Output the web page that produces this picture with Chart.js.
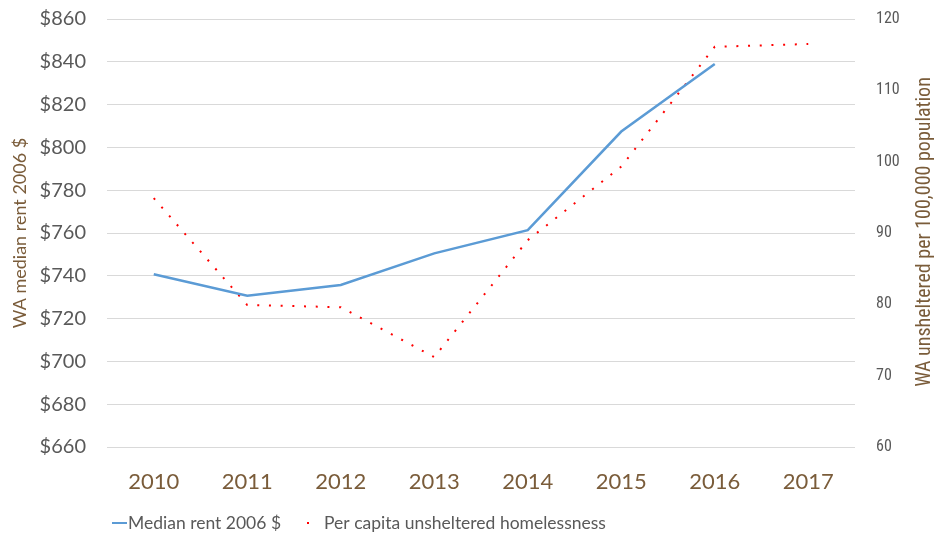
<!DOCTYPE html>
<html>
<head>
<meta charset="utf-8">
<script src="https://cdn.jsdelivr.net/npm/chart.js@4/dist/chart.umd.min.js"></script>
<style>
html,body{margin:0;padding:0;background:#fff;}
#wrap{width:945px;height:537px;position:relative;}
</style>
</head>
<body>
<div id="wrap"><canvas id="c" width="945" height="537"></canvas></div>
<script>
const years = ['2010','2011','2012','2013','2014','2015','2016','2017'];
const medianRent = [740.7, 730.7, 735.7, 750.5, 761.3, 807.4, 839.0, null];
const unsheltered = [94.9, 79.9, 79.6, 72.6, 89.0, 99.3, 116.1, 116.5];
const rentLabel = 'Median rent 2006 $';
const homelessLabel = 'Per capita unsheltered homelessness';
const leftTitle = 'WA median rent 2006 $';
const rightTitle = 'WA unsheltered per 100,000 population';

const GRAY = '#595959';
const BROWN = '#7A5C3A';
const BLUE = '#5B9BD5';
const RED = '#FF0000';
const NARROW = "'Liberation Sans Narrow', 'Roboto Condensed', 'Open Sans', sans-serif";

const extras = {
  id: 'extras',
  afterDraw(chart) {
    const ctx = chart.ctx;
    ctx.save();
    ctx.fillStyle = BROWN;
    ctx.font = "18px Lato";
    ctx.textAlign = 'center';
    ctx.textBaseline = 'middle';
    ctx.translate(20, 233);
    ctx.rotate(-Math.PI / 2);
    ctx.fillText(leftTitle, 0, 0);
    ctx.restore();
    ctx.save();
    ctx.fillStyle = BROWN;
    ctx.font = "20px " + NARROW;
    ctx.textAlign = 'center';
    ctx.textBaseline = 'middle';
    ctx.translate(925, 232);
    ctx.rotate(-Math.PI / 2);
    ctx.fillText(rightTitle, 0, 0);
    ctx.restore();
    ctx.save();
    const ly = 523;
    ctx.strokeStyle = BLUE;
    ctx.lineWidth = 2;
    ctx.beginPath();
    ctx.moveTo(112, ly);
    ctx.lineTo(127, ly);
    ctx.stroke();
    ctx.fillStyle = GRAY;
    ctx.font = "17.5px Lato";
    ctx.textAlign = 'left';
    ctx.textBaseline = 'middle';
    ctx.fillText(rentLabel, 128, ly);
    ctx.fillStyle = RED;
    ctx.fillRect(307, ly - 1, 2, 2);
    ctx.fillStyle = GRAY;
    ctx.fillText(homelessLabel, 324, ly);
    ctx.restore();
  }
};

new Chart(document.getElementById('c'), {
  type: 'line',
  data: {
    labels: years,
    datasets: [
      {
        label: rentLabel,
        data: medianRent,
        yAxisID: 'y',
        borderColor: BLUE,
        backgroundColor: BLUE,
        borderWidth: 2.5,
        pointRadius: 0,
        tension: 0,
        spanGaps: false
      },
      {
        label: homelessLabel,
        data: unsheltered,
        yAxisID: 'y1',
        borderColor: RED,
        backgroundColor: RED,
        borderWidth: 2,
        borderDash: [2, 9.7],
        pointRadius: 0,
        tension: 0
      }
    ]
  },
  options: {
    responsive: false,
    animation: false,
    events: [],
    layout: { padding: { top: 19, bottom: 0, left: 0, right: 0 } },
    plugins: {
      legend: { display: false },
      tooltip: { enabled: false }
    },
    scales: {
      x: {
        offset: true,
        grid: { display: false, drawTicks: false },
        border: { display: false },
        ticks: { color: BROWN, font: { family: 'Lato', size: 22 }, padding: 22, maxRotation: 0 },
        afterFit(s) { s.height = 90; }
      },
      y: {
        position: 'left',
        min: 660, max: 860,
        grid: { color: '#D9D9D9', lineWidth: 1, drawTicks: false },
        border: { display: false },
        ticks: {
          stepSize: 20,
          color: GRAY,
          font: { family: 'Lato', size: 20 },
          padding: 21,
          callback: v => '$' + v
        },
        afterFit(s) { s.width = 107; s.paddingTop = 0; s.paddingBottom = 0; }
      },
      y1: {
        position: 'right',
        min: 60, max: 120,
        grid: { display: false, drawTicks: false },
        border: { display: false },
        ticks: {
          stepSize: 10,
          color: GRAY,
          font: { family: NARROW, size: 16 },
          padding: 21
        },
        afterFit(s) { s.width = 90; s.paddingTop = 0; s.paddingBottom = 0; }
      }
    }
  },
  plugins: [extras]
});
</script>
</body>
</html>
